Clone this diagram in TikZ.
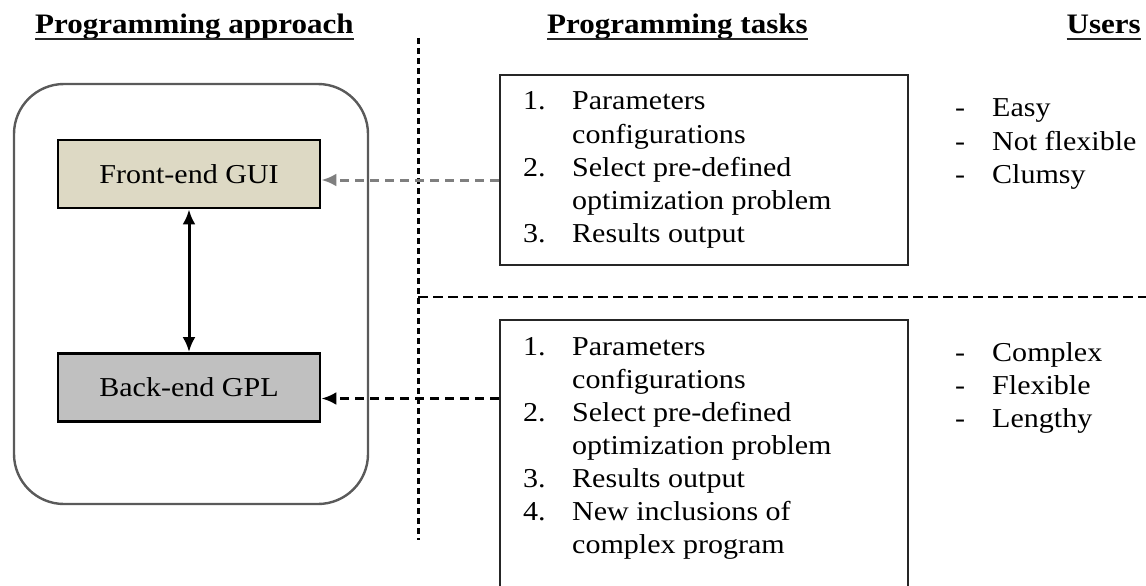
\documentclass[tikz,border=0pt]{standalone}
\usepackage{fontspec}
\setmainfont{Liberation Serif}[FakeStretch=1.1]
\usetikzlibrary{arrows.meta,calc}
\definecolor{guifill}{HTML}{DDD9C4}
\definecolor{gplfill}{HTML}{C0C0C0}
\definecolor{framegray}{HTML}{5A5A5A}
\definecolor{arrgray}{HTML}{7F7F7F}
\begin{document}
\begin{tikzpicture}[x=1pt,y=-1pt,
  every node/.style={font=\fontsize{27.3}{33}\selectfont},
  layerbox/.style={draw=black, line width=2.8pt, minimum width=262pt, minimum height=68pt, inner sep=0pt},
  taskbox/.style={draw=black!85, line width=2.5pt, minimum width=408pt, inner sep=0pt},
  framebox/.style={draw=framegray, line width=2.4pt, rounded corners=50pt, minimum width=354pt, minimum height=420pt, inner sep=0pt},
  txt/.style={inner sep=0pt, anchor=base west},
  head/.style={inner sep=0pt, anchor=base west, font=\fontsize{28.2}{33}\selectfont\bfseries},
  headline/.style={line width=2.2pt, draw=black!85},
  tiparrow/.style={-{Latex[length=15pt,width=13pt]}},
  linkgray/.style={tiparrow, draw=arrgray, line width=3pt, dash pattern=on 9pt off 6pt},
  linkblack/.style={tiparrow, draw=black, line width=3pt, dash pattern=on 9pt off 6pt},
  bothway/.style={{Latex[length=15pt,width=13pt]}-{Latex[length=15pt,width=13pt]}, line width=3pt},
  vsep/.style={line width=3pt, dash pattern=on 6pt off 4pt},
  hsep/.style={line width=2.6pt, dash pattern=on 10pt off 5pt}
]
\useasboundingbox (0,0) rectangle (1146,586);
\clip (0,0) rectangle (1146,586);
\fill[white] (0,0) rectangle (1146,586);

% headings
\node[head] (h1) at (35,34) {Programming approach};
\node[head] (h2) at (547,34) {Programming tasks};
\node[head, anchor=base east] (h3) at (1141,34) {Users};
\foreach \h in {h1,h2,h3}
  \draw[headline] ($(\h.base west)+(0,5)$) -- ($(\h.base east)+(0,5)$);

% separators
\coordinate (vtop) at (418,38);
\coordinate (vbot) at (418,540);
\coordinate (hl) at (418,297);
\coordinate (hr) at (1146,297);
\draw[vsep] (vtop) -- (vbot);
\draw[hsep] (hl) -- (hr);

% left frame with layers
\node[framebox] (frame) at (191,294) {};
\node[layerbox, fill=guifill] (fe) at (189,174) {Front-end GUI};
\node[layerbox, fill=gplfill] (be) at (189,387.5) {Back-end GPL};
\draw[bothway] (fe.south) -- (be.north);

% task boxes
\node[taskbox, minimum height=190pt] (tA) at (704,170) {};
\node[taskbox, minimum height=320pt] (tB) at (704,480) {};

% connectors
\coordinate (aA) at ($(tA.west)+(0,10)$);
\draw[linkgray] (aA) -- (aA -| fe.east);
\coordinate (aB) at ($(be.east)+(0,11)$);
\draw[linkblack] (aB -| tB.west) -- (aB);

% top task list
\node[txt] (nA1) at (523,110) {1.};
\node[txt] (tA1) at (572,110) {Parameters};
\node[txt] (tA2) at (572,143) {configurations};
\node[txt] (nA2) at (523,176) {2.};
\node[txt] (tA3) at (572,176) {Select pre-defined};
\node[txt] (tA4) at (572,209) {optimization problem};
\node[txt] (nA3) at (523,242) {3.};
\node[txt] (tA5) at (572,242) {Results output};

% bottom task list
\node[txt] (nB1) at (523,355) {1.};
\node[txt] (tB1) at (572,355) {Parameters};
\node[txt] (tB2) at (572,388) {configurations};
\node[txt] (nB2) at (523,421) {2.};
\node[txt] (tB3) at (572,421) {Select pre-defined};
\node[txt] (tB4) at (572,454) {optimization problem};
\node[txt] (nB3) at (523,487) {3.};
\node[txt] (tB5) at (572,487) {Results output};
\node[txt] (nB4) at (523,520) {4.};
\node[txt] (tB6) at (572,520) {New inclusions of};
\node[txt] (tB7) at (572,553) {complex program};

% users
\node[txt] (dU1) at (955,117) {-};
\node[txt] (uU1) at (992,117) {Easy};
\node[txt] (dU2) at (955,150) {-};
\node[txt] (uU2) at (992,150) {Not flexible};
\node[txt] (dU3) at (955,183) {-};
\node[txt] (uU3) at (992,183) {Clumsy};
\node[txt] (dL1) at (955,361) {-};
\node[txt] (uL1) at (992,361) {Complex};
\node[txt] (dL2) at (955,394) {-};
\node[txt] (uL2) at (992,394) {Flexible};
\node[txt] (dL3) at (955,427) {-};
\node[txt] (uL3) at (992,427) {Lengthy};
\end{tikzpicture}
\end{document}
